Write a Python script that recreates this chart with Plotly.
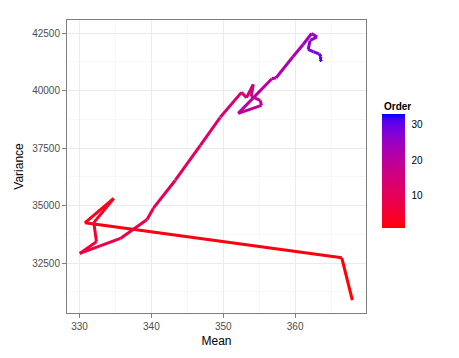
import numpy as np
import plotly.graph_objects as go

# Data (path ordered 1..33)
order = list(range(1, 34))
mean_vals = [367.96, 366.49, 330.74, 334.76, 331.99, 332.36, 330.04, 335.69, 339.40, 340.28,
             343.33, 346.81, 349.58, 352.54, 353.24, 354.17, 353.89, 355.14, 355.32, 352.08,
             356.76, 357.36, 359.72, 361.11, 362.29, 363.06, 362.08, 361.81, 362.57, 363.33,
             363.61, 363.47, 363.68]
variance_vals = [30893, 32730, 34250, 35309, 34259, 33425, 32921, 33573, 34398, 34888,
                 36104, 37624, 38840, 39925, 39695, 40272, 39751, 39578, 39361, 39013,
                 40520, 40563, 41488, 42009, 42487, 42335, 42183, 41792, 41684, 41597,
                 41488, 41358, 41271]
x_ticks = [330, 340, 350, 360]
y_ticks = [32500, 35000, 37500, 40000, 42500]
cbar_ticks = [10, 20, 30]


# ggplot-like Lab interpolation between red and blue
def srgb_to_lab(rgb):
    c = np.array(rgb, dtype=float) / 255.0
    c = np.where(c > 0.04045, ((c + 0.055) / 1.055) ** 2.4, c / 12.92)
    M = np.array([[0.4124, 0.3576, 0.1805], [0.2126, 0.7152, 0.0722], [0.0193, 0.1192, 0.9505]])
    xyz = M @ c
    xyz = xyz / np.array([0.95047, 1.0, 1.08883])
    f = np.where(xyz > 0.008856, np.cbrt(xyz), 7.787 * xyz + 16 / 116)
    return np.array([116 * f[1] - 16, 500 * (f[0] - f[1]), 200 * (f[1] - f[2])])


def lab_to_srgb(lab):
    L, a, b = lab
    fy = (L + 16) / 116
    fx = fy + a / 500
    fz = fy - b / 200
    f = np.array([fx, fy, fz])
    xyz = np.where(f ** 3 > 0.008856, f ** 3, (f - 16 / 116) / 7.787)
    xyz = xyz * np.array([0.95047, 1.0, 1.08883])
    Minv = np.array([[3.2406, -1.5372, -0.4986], [-0.9689, 1.8758, 0.0415], [0.0557, -0.2040, 1.0570]])
    c = Minv @ xyz
    c = np.clip(c, 0, 1)
    c = np.where(c > 0.0031308, 1.055 * c ** (1 / 2.4) - 0.055, 12.92 * c)
    return tuple(int(round(v * 255)) for v in c)


low = srgb_to_lab((255, 0, 0))
high = srgb_to_lab((0, 0, 255))


def col(t):
    lab = low + (high - low) * t
    r, g, b = lab_to_srgb(lab)
    return f"rgb({r},{g},{b})"


# Page body has an 8px default margin, so figure is sized to the remaining area
W, H = 443, 342
ML, MT = 58.5, 11.5
PW, PH = 299.5, 293.5
MR, MB = W - ML - PW, H - MT - PH

# colorbar geometry (pixels in figure coords)
CB_X0, CB_X1 = 374, 397
CB_TOP, CB_LEN = 107.7, 114.3
CB_SHIFT = 16  # empirical correction of plotly's container placement

omin, omax = min(order), max(order)
fig = go.Figure()
for i in range(len(order) - 1):
    t = (order[i] - omin) / (omax - omin)
    fig.add_trace(go.Scatter(
        x=mean_vals[i:i + 2], y=variance_vals[i:i + 2], mode="lines",
        line=dict(color=col(t), width=3), hoverinfo="skip", showlegend=False))

scale = [[k / 20, col(k / 20)] for k in range(21)]
fig.add_trace(go.Scatter(
    x=[mean_vals[0]], y=[variance_vals[0]], mode="markers", hoverinfo="skip", showlegend=False,
    marker=dict(size=0.1, opacity=0, color=[omin], cmin=omin, cmax=omax, colorscale=scale,
                showscale=True,
                colorbar=dict(
                    tickvals=cbar_ticks, ticks="outside", ticklen=5, tickcolor="rgba(0,0,0,0)",
                    tickfont=dict(size=10, color="black", family="Liberation Sans, Arial"),
                    thickness=CB_X1 - CB_X0, len=CB_LEN, lenmode="pixels",
                    xref="container", x=CB_X0 / W, xanchor="left", xpad=0,
                    yref="container", y=1 - (CB_TOP + CB_SHIFT) / H, yanchor="top", ypad=0,
                    outlinewidth=0))))


def px2paper(px, py):
    return (px - ML) / PW, 1 - (py - MT) / PH


shapes = []
for v in cbar_ticks:
    py = CB_TOP + CB_LEN - (v - omin) / (omax - omin) * CB_LEN
    for xa, xb in [(CB_X0, CB_X0 + 4.5), (CB_X1 - 4.5, CB_X1)]:
        x0, y0 = px2paper(xa, py)
        x1, _ = px2paper(xb, py)
        shapes.append(dict(type="line", xref="paper", yref="paper", x0=x0, x1=x1, y0=y0, y1=y0,
                           line=dict(color="white", width=1.2), layer="above"))

tx, ty = px2paper(CB_X0, 98.5)
annotations = [dict(text="<b>Order</b>", xref="paper", yref="paper", x=tx, y=ty,
                    xanchor="left", yanchor="middle", showarrow=False,
                    font=dict(size=10, color="black", family="Liberation Sans, Arial"))]

axis_common = dict(
    showline=True, linecolor="#7F7F7F", linewidth=1, mirror=True,
    showgrid=True, gridcolor="#EBEBEB", gridwidth=1, zeroline=False,
    ticks="outside", ticklen=4, tickcolor="#7F7F7F", tickwidth=1,
    tickfont=dict(size=10, color="#4D4D4D", family="Liberation Sans, Arial"),
    minor=dict(showgrid=True, gridcolor="#F7F7F7", gridwidth=1),
)

fig.update_layout(
    width=W, height=H,
    margin=dict(l=ML, r=MR, t=MT, b=MB, autoexpand=False),
    paper_bgcolor="white", plot_bgcolor="white",
    shapes=shapes, annotations=annotations,
    xaxis=dict(range=[328.26, 369.86], tickvals=x_ticks,
               title=dict(text="Mean", font=dict(size=12, color="black", family="Liberation Sans, Arial"),
                          standoff=5),
               **axis_common),
    yaxis=dict(range=[30329, 43073], tickvals=y_ticks, tickformat="d",
               title=dict(text="Variance", font=dict(size=12, color="black", family="Liberation Sans, Arial"),
                          standoff=5),
               **axis_common),
)
fig.update_xaxes(minor=dict(tickvals=[335, 345, 355, 365]))
fig.update_yaxes(minor=dict(tickvals=[31250, 33750, 36250, 38750, 41250]))

fig.write_html("out.html")
